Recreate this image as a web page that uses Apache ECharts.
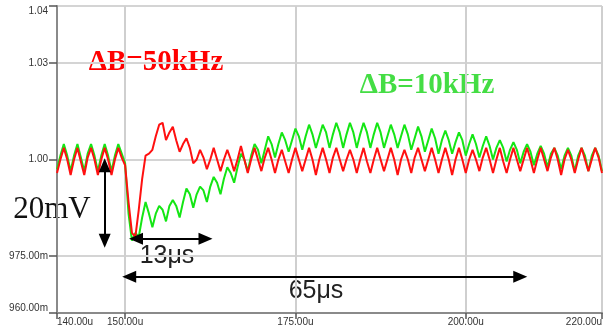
<!DOCTYPE html>
<html>
<head>
<meta charset="utf-8">
<script src="https://cdn.jsdelivr.net/npm/echarts@6/dist/echarts.min.js"></script>
<style>
  html, body { margin: 0; padding: 0; background: #fff; }
  #chart { width: 604px; height: 330px; }
</style>
</head>
<body>
<div id="chart"></div>
<script>
// time axis: samples every 0.5us from 140us
var tStart = 140;
var tStep = 0.5;

// deviation from 1.00 V, in mV
var greenMv = [
    -2.5, 1, 4, 1,   -3, 1, 4, 0.5,   -3, 1.5, 4, 1,   -3, 1, 4, 1,   -3, 1, 4, 1.5,
    -1, -14, -21, -19,   -20, -15, -11, -14,   -17.5, -14, -12, -13,   -16, -12, -10.5, -12,
    -15, -11, -7.5, -9,   -12.5, -9, -7, -8,   -11, -7, -4.5, -6,   -9, -5, -2, -3.5,
    -6, -2, 1.5, 0,   -3, 1, 4, 2.5,   -1, 2.5, 6, 4,   0.5, 4, 7, 5,   2, 5, 8, 6,
    2.5, 6, 9, 6.5,   3, 6, 9, 7,   3, 6.5, 9.5, 7,   3, 6.5, 9.5, 7,   3, 6.5, 9.5, 7,
    3, 6.5, 9.5, 7,   3, 6, 9, 6.5,   3, 6, 9, 6.5,   2.5, 5.5, 8.5, 6,   2, 5, 8, 5.5,
    1.5, 5, 7.5, 5,   1.5, 4.5, 7, 5,   1, 4, 6.5, 4,   0.5, 3.5, 6, 3.5,   0, 3, 5, 3,
    -0.5, 2.5, 4.5, 2.5,   -1, 2, 4, 2,   -1.5, 1.5, 3.5, 1.5,   -2, 1.5, 3, 1,
    -2.5, 1, 3, 1,   -3, 1, 3, 1,   -3, 1, 3, 1,
    -3
];
var redMv = [
    -3.5, 0, 3, 0,   -4, 0, 3, -0.5,   -4, 0.5, 3, 0,   -4, 0, 3, 0,   -4, 0, 3, 0.5,
    -1.5, -11, -19, -20,   -13, -5, 1, 1.5,   2.5, 6, 9, 9.5,   5, 7, 8.5, 5,
    2, 4, 5.5, 3,   -1, 0, 2.5, 0.5,   -2.5, 0, 3, 0,   -3, 0, 2.5, 0,   -3, 0, 3.5, 0,
    -3.5, 0, 3, 0,   -3, 0.5, 3, 0,   -3.5, 0, 2.5, -0.5,   -3.5, 0, 3, 0,   -3, 0, 3, 0,
    -4, 0, 3, 0,   -3.5, 0.5, 3, 0,   -3, 0, 2.5, 0,   -3.5, 0, 3, -0.5,   -3.5, 0, 3, 0,
    -3, 0, 3, 0,   -4, 0, 2.5, 0,   -3.5, 0.5, 3, 0,   -3, 0, 3, 0,   -3.5, 0, 3, 0,
    -4, 0, 3, 0,   -3.5, 0, 2.5, 0,   -3, 0.5, 3, 0,   -3.5, 0, 3, -0.5,   -3.5, 0, 3, 0,
    -3, 0, 3, 0,   -3.5, 0, 3, 0,   -3, 0.5, 3, 0,   -4, 0, 2.5, 0,   -3.5, 0, 3, 0,
    -3, 0, 3, 0.5,
    -3.5
];

var xTickValues = [140, 150, 175, 200, 220];
var xTickLabels = ['140.00u', '150.00u', '175.00u', '200.00u', '220.00u'];
var yTickValues = [-39.7, -25, 0, 25, 39.7];
var yTickLabels = ['960.00m', '975.00m', '1.00', '1.03', '1.04'];

// annotation arrows [t0, v0, t1, v1]
var arrow20mV = [147, -1.5, 147, -21];
var arrow13us = [151.6, -20.5, 161.8, -20.5];
var arrow65us = [150.6, -30.3, 208, -30.3];

function toPairs(vals) {
    var out = [];
    for (var i = 0; i < vals.length; i++) {
        out.push([tStart + i * tStep, vals[i]]);
    }
    return out;
}
function arrowLine(a) {
    return [{ coord: [a[0], a[1]] }, { coord: [a[2], a[3]] }];
}

var chart = echarts.init(document.getElementById('chart'));
var option = {
    animation: false,
    backgroundColor: '#fff',
    grid: {
        left: 57,
        right: 2,
        top: 6,
        bottom: 17,
        outerBoundsMode: 'none'
    },
    xAxis: {
        type: 'value',
        min: 140,
        max: 220,
        axisLine: { onZero: false, lineStyle: { color: '#8a8a8a', width: 2 } },
        axisTick: {
            customValues: xTickValues,
            length: 6,
            lineStyle: { color: '#555', width: 1.5 }
        },
        axisLabel: {
            customValues: xTickValues,
            margin: 4,
            fontSize: 10,
            fontFamily: 'Liberation Sans',
            color: '#333',
            alignMinLabel: 'left',
            alignMaxLabel: 'right',
            formatter: function (v) {
                var k = xTickValues.indexOf(v);
                return k >= 0 ? xTickLabels[k] : '';
            }
        },
        splitLine: { show: true, lineStyle: { color: '#cfcfcf', width: 2 } }
    },
    yAxis: {
        type: 'value',
        min: -39.7,
        max: 39.7,
        axisLine: { show: true, onZero: false, lineStyle: { color: '#8a8a8a', width: 2 } },
        axisTick: {
            show: true,
            customValues: yTickValues,
            length: 8,
            lineStyle: { color: '#555', width: 1.5 }
        },
        axisLabel: {
            customValues: yTickValues,
            margin: 9,
            fontSize: 10,
            fontFamily: 'Liberation Sans',
            color: '#333',
            verticalAlignMinLabel: 'bottom',
            verticalAlignMaxLabel: 'top',
            formatter: function (v) {
                var k = yTickValues.indexOf(v);
                return k >= 0 ? yTickLabels[k] : '';
            }
        },
        splitLine: { show: true, lineStyle: { color: '#d4d4d4', width: 2 } }
    },
    series: [
        {
            name: 'dB10',
            type: 'line',
            data: toPairs(greenMv),
            showSymbol: false,
            lineStyle: { color: '#14e614', width: 2 },
            z: 2
        },
        {
            name: 'dB50',
            type: 'line',
            data: toPairs(redMv),
            showSymbol: false,
            lineStyle: { color: '#ff1010', width: 2 },
            z: 3,
            markLine: {
                silent: true,
                symbol: ['triangle', 'triangle'],
                symbolSize: [12, 14],
                label: { show: false },
                lineStyle: { color: '#000', width: 2, type: 'solid' },
                data: [arrowLine(arrow20mV), arrowLine(arrow13us), arrowLine(arrow65us)]
            }
        }
    ],
    graphic: [
        {
            type: 'text',
            style: {
                text: 'ΔB=50kHz', x: 156, y: 63,
                textAlign: 'center', textVerticalAlign: 'middle',
                font: 'bold 29px "Liberation Serif"', fill: '#ff0000'
            }
        },
        {
            type: 'text',
            style: {
                text: 'ΔB=10kHz', x: 427, y: 86,
                textAlign: 'center', textVerticalAlign: 'middle',
                font: 'bold 29px "Liberation Serif"', fill: '#44dd44'
            }
        },
        {
            type: 'text',
            style: {
                text: '20mV', x: 52, y: 210,
                textAlign: 'center', textVerticalAlign: 'middle',
                font: '31px "Liberation Serif"', fill: '#111'
            }
        },
        {
            type: 'text',
            style: {
                text: '13μs', x: 167, y: 256,
                textAlign: 'center', textVerticalAlign: 'middle',
                font: '25px "Liberation Sans"', fill: '#222'
            }
        },
        {
            type: 'text',
            style: {
                text: '65μs', x: 316, y: 291,
                textAlign: 'center', textVerticalAlign: 'middle',
                font: '25px "Liberation Sans"', fill: '#222'
            }
        }
    ]
};
chart.setOption(option);
window.addEventListener('resize', chart.resize);
</script>
</body>
</html>
